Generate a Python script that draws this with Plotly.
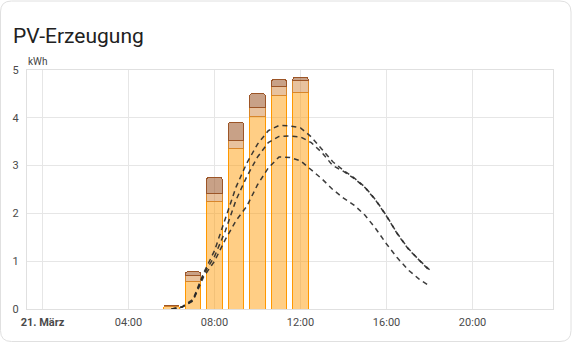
import plotly.graph_objects as go

# Hourly solar production per source (kWh), 21 March
hours = [6, 7, 8, 9, 10, 11, 12]
source_1 = [0.05, 0.57, 2.24, 3.36, 4.02, 4.46, 4.53]
source_2 = [0.02, 0.14, 0.17, 0.17, 0.19, 0.20, 0.25]
source_3 = [0.01, 0.07, 0.35, 0.38, 0.30, 0.14, 0.07]

# Production forecasts (kWh), half-hourly
forecast_hours = [6.0, 6.5, 7.0, 7.5, 8.0, 8.5, 9.0, 9.5, 10.0, 10.5, 11.0, 11.5,
                  12.0, 12.5, 13.0, 13.5, 14.0, 14.5, 15.0, 15.5, 16.0, 16.5,
                  17.0, 17.5, 18.0]
forecast_a = [0.0, 0.05, 0.2, 0.76, 1.22, 1.9, 2.55, 3.05, 3.45, 3.73, 3.84, 3.83,
              3.79, 3.6, 3.34, 3.08, 2.9, 2.74, 2.55, 2.28, 1.95, 1.58,
              1.27, 1.03, 0.82]
forecast_b = [0.0, 0.04, 0.18, 0.73, 1.1, 1.63, 2.28, 2.77, 3.18, 3.48, 3.61, 3.62,
              3.6, 3.48, 3.27, 3.0, 2.88, 2.73, 2.54, 2.27, 1.94, 1.57,
              1.26, 1.02, 0.8]
forecast_c = [0.0, 0.04, 0.17, 0.68, 1.0, 1.45, 1.85, 2.15, 2.6, 2.95, 3.18, 3.17,
              3.1, 2.92, 2.72, 2.5, 2.32, 2.17, 1.96, 1.68, 1.36, 1.07,
              0.82, 0.63, 0.48]

tick_hours = [0, 4, 8, 12, 16, 20]
tick_labels = ["<b>21. März</b>", "04:00", "08:00", "12:00", "16:00", "20:00"]

title_text = "PV-Erzeugung"
unit_text = "kWh"

fig = go.Figure()

bar_styles = [
    (source_1, "rgba(255,152,0,0.48)", "#ff9800"),
    (source_2, "rgba(204,120,40,0.45)", "#d8862a"),
    (source_3, "rgba(150,75,25,0.52)", "#9c5527"),
]
for values, fill, border in bar_styles:
    fig.add_trace(go.Bar(
        x=hours, y=values, width=0.72,
        marker=dict(color=fill, line=dict(color=border, width=1)),
        hoverinfo="skip", showlegend=False,
    ))

for series in (forecast_a, forecast_b, forecast_c):
    fig.add_trace(go.Scatter(
        x=forecast_hours, y=series, mode="lines",
        line=dict(color="rgba(40,40,40,0.9)", width=1.5, dash="5px,4px"),
        hoverinfo="skip", showlegend=False,
    ))

# plot area spans 27..553 px horizontally and 70..309 px vertically
L, R, T, B = 27, 20, 70, 37
W, H = 573, 346
pw, ph = W - L - R, H - T - B


def px(x):
    return (x - L) / pw


def py(y):
    return (H - B - y) / ph


# rounded card outline
x0, x1, y0, y1 = 0.5, 571.0, 1.0, 341.5
r = 11
path = (
    f"M {px(x0 + r)} {py(y0)} L {px(x1 - r)} {py(y0)} "
    f"Q {px(x1)} {py(y0)} {px(x1)} {py(y0 + r)} "
    f"L {px(x1)} {py(y1 - r)} Q {px(x1)} {py(y1)} {px(x1 - r)} {py(y1)} "
    f"L {px(x0 + r)} {py(y1)} Q {px(x0)} {py(y1)} {px(x0)} {py(y1 - r)} "
    f"L {px(x0)} {py(y0 + r)} Q {px(x0)} {py(y0)} {px(x0 + r)} {py(y0)} Z"
)

fig.update_layout(
    width=W, height=H,
    margin=dict(l=L, r=R, t=T, b=B),
    paper_bgcolor="white",
    plot_bgcolor="rgba(0,0,0,0)",
    barmode="stack",
    barcornerradius=3,
    font=dict(family="Roboto", size=11, color="#5a5a5a"),
    shapes=[dict(type="path", xref="paper", yref="paper", path=path,
                 line=dict(color="#e0e0e0", width=1), fillcolor="white",
                 layer="below")],
    annotations=[
        dict(text=title_text, xref="paper", yref="paper", x=px(11), y=py(36),
             xanchor="left", yanchor="middle", showarrow=False,
             font=dict(family="Roboto", size=21, color="#212121")),
        dict(text=unit_text, xref="paper", yref="paper", x=px(26), y=py(62),
             xanchor="left", yanchor="middle", showarrow=False,
             font=dict(family="Roboto", size=10, color="#444444")),
    ],
    xaxis=dict(
        range=[-0.72, 23.74], tickvals=tick_hours, ticktext=tick_labels,
        showgrid=True, gridcolor="#e6e6e6", gridwidth=1,
        showline=True, linecolor="#e0e0e0", mirror=True,
        zeroline=False, ticks="outside", ticklen=3, tickcolor="rgba(0,0,0,0)",
        tickfont=dict(size=11, color="#4a4a4a"), fixedrange=True,
    ),
    yaxis=dict(
        range=[0, 5], dtick=1, showgrid=True, gridcolor="#e6e6e6", gridwidth=1,
        showline=True, linecolor="#e0e0e0", mirror=True,
        zeroline=False, ticks="outside", ticklen=5, tickcolor="rgba(0,0,0,0)",
        tickfont=dict(size=11, color="#4a4a4a"), fixedrange=True,
    ),
)

fig.write_html("out.html", config={"displayModeBar": False})
